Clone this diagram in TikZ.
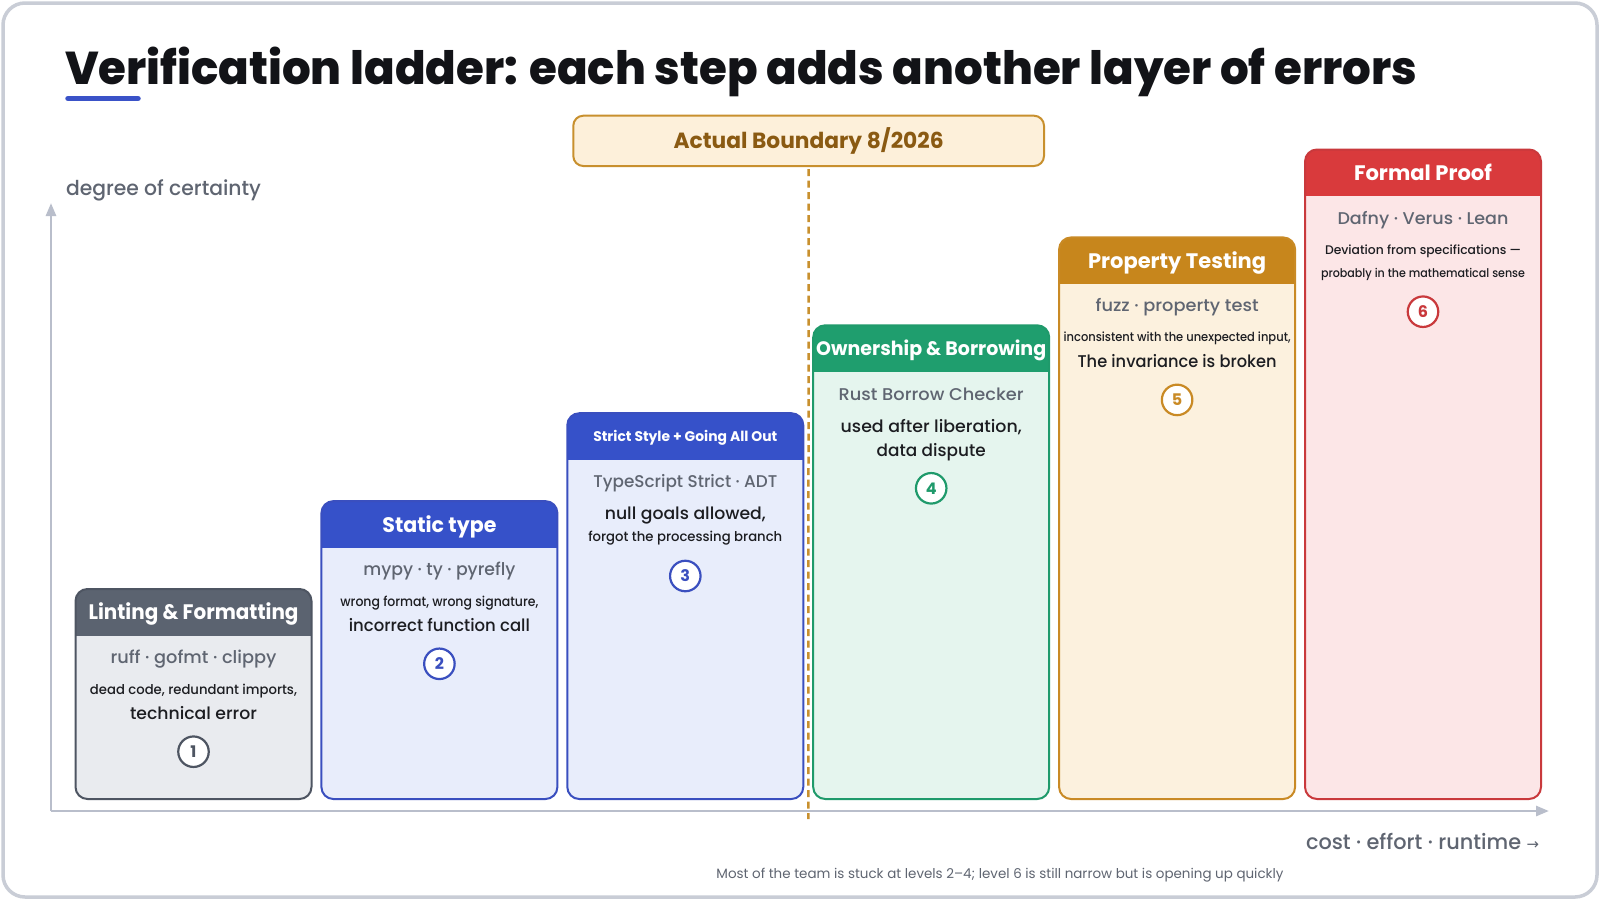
\documentclass[tikz,border=0pt]{standalone}
\usepackage{fontspec}
\usepackage{graphicx}
\usetikzlibrary{arrows.meta}
\setmainfont{Poppins}
\newfontfamily\fxb{Poppins ExtraBold}
\newfontfamily\fsb{Poppins SemiBold}
\newfontfamily\fmd{Poppins Medium}
\newfontfamily\dejavu{DejaVu Sans}
\newcommand\tx[3]{\resizebox{#1pt}{\height}{\fontsize{#2}{#2}\selectfont #3}}
\definecolor{hgray}{HTML}{5B6370}\definecolor{bgray}{HTML}{E9EBEF}\definecolor{kgray}{HTML}{4E5562}
\definecolor{hblue}{HTML}{3651C9}\definecolor{bblue}{HTML}{E8EDFB}\definecolor{kblue}{HTML}{3A4FBF}
\definecolor{hgreen}{HTML}{1F9E6E}\definecolor{bgreen}{HTML}{E5F5EE}\definecolor{kgreen}{HTML}{1F9A6B}
\definecolor{horange}{HTML}{C7861C}\definecolor{borange}{HTML}{FCF1DE}\definecolor{korange}{HTML}{C98A25}
\definecolor{hred}{HTML}{D93A3C}\definecolor{bred}{HTML}{FCE6E7}\definecolor{kred}{HTML}{C9393C}
\definecolor{axisc}{HTML}{B9BECB}\definecolor{framec}{HTML}{C9CDD6}\definecolor{tgray}{HTML}{5F6571}
\definecolor{ink}{HTML}{1C1D21}\definecolor{bfill}{HTML}{FDF0DA}\definecolor{bdraw}{HTML}{C8902E}
\definecolor{btext}{HTML}{8A5A12}\definecolor{ulblue}{HTML}{3A52C8}\definecolor{titlec}{HTML}{121317}
\newcommand\ldbox[5]{%
  \begin{scope}
    \clip[rounded corners=12pt] (#1,#2) rectangle ({#1+236},799);
    \fill[#4] (#1,#2) rectangle ({#1+236},799);
    \fill[#3] (#1,#2) rectangle ({#1+236},{#2+46.5});
  \end{scope}
  \draw[#5, line width=2pt, rounded corners=12pt] (#1,#2) rectangle ({#1+236},799);
}
\tikzset{
  txt/.style={anchor=base, inner sep=0pt, outer sep=0pt},
  hdr/.style={txt, text=white},
  tool/.style={txt, text=tgray},
  desc/.style={txt, text=ink},
  num/.style={circle, draw=#1, text=#1, fill=white, line width=2.2pt, minimum size=30.5pt, inner sep=0pt},
  axisline/.style={axisc, line width=2.7pt, -{Triangle[length=13pt,width=10pt]}},
}
\begin{document}
\begin{tikzpicture}[x=1pt,y=-1pt]
\useasboundingbox (0,0) rectangle (1600,900);
\fill[white] (0,0) rectangle (1600,900);
\draw[framec, line width=3.5pt, rounded corners=22pt] (3,3) rectangle (1597,897);

% title
\node[txt, anchor=base west, text=titlec] (title) at (65,84) {\tx{1352}{46}{\fxb Verification ladder: each step adds another layer of errors}};
\draw[ulblue, line width=5.5pt, line cap=round] (68,98.5) -- (138,98.5);

% axes
\node[txt, anchor=base west, text=tgray] (ylab) at (66,195) {\tx{195}{20.5}{\fmd degree of certainty}};
\coordinate (origin) at (51,811);
\coordinate (ytip) at (51,203);
\coordinate (xtip) at (1549,811);
\draw[axisline] (origin) -- (ytip);
\draw[axisline] (origin) -- (xtip);
\node[txt, anchor=base east, text=tgray] (xlab) at (1539,849) {\tx{233}{21}{\fmd cost · effort · runtime {\dejavu\fontsize{15}{15}\selectfont →}}};
\node[txt, text=tgray] (foot) at (1000,878) {\tx{567}{13.5}{Most of the team is stuck at levels 2–4; level 6 is still narrow but is opening up quickly}};

% boxes
\ldbox{75.5}{589}{hgray}{bgray}{kgray}
\ldbox{321.4}{501.1}{hblue}{bblue}{kblue}
\ldbox{567.3}{413.2}{hblue}{bblue}{kblue}
\ldbox{813.2}{325.3}{hgreen}{bgreen}{kgreen}
\ldbox{1059.1}{237.4}{horange}{borange}{korange}
\ldbox{1305}{149.5}{hred}{bred}{kred}

% boundary
\node[draw=bdraw, fill=bfill, line width=2pt, rounded corners=10pt, minimum width=470.7pt, minimum height=50.3pt, inner sep=0pt] (bnd) at (808.65,140.85) {};
\node[txt, text=btext] (bndlab) at (808.65,148.3) {\tx{270}{22}{\bfseries Actual Boundary 8/2026}};
\coordinate (dashend) at (808.3,819);
\draw[bdraw, line width=2.5pt, dash pattern=on 7pt off 4.5pt, shorten <=2pt] (bnd.south) -- (dashend);

% box 1
\node[hdr] (h1) at (193.5,619.5) {\tx{210}{21}{\bfseries Linting \& Formatting}};
\node[tool] (t1) at (193.5,663) {\tx{166}{17.5}{\fmd ruff · gofmt · clippy}};
\node[desc] (d1a) at (193.5,694) {\tx{207}{13.5}{\fmd dead code, redundant imports,}};
\node[desc] (d1b) at (193.5,719.5) {\tx{127}{17}{\fmd technical error}};
\node[num=kgray] (n1) at (193.5,751.7) {\fontsize{16}{16}\selectfont\bfseries 1};

% box 2
\node[hdr] (h2) at (439.4,532.1) {\tx{114}{21}{\bfseries Static type}};
\node[tool] (t2) at (439.4,575.1) {\tx{152}{17.5}{\fmd mypy · ty · pyrefly}};
\node[desc] (d2a) at (439.4,606.1) {\tx{198}{13.5}{\fmd wrong format, wrong signature,}};
\node[desc] (d2b) at (439.4,631.1) {\tx{181}{17}{\fmd incorrect function call}};
\node[num=kblue] (n2) at (439.4,663.8) {\fontsize{16}{16}\selectfont\bfseries 2};

% box 3
\node[hdr] (h3) at (685.3,441.7) {\tx{184}{14}{\bfseries Strict Style + Going All Out}};
\node[tool] (t3) at (685.3,487.3) {\tx{184}{17}{\fmd TypeScript Strict · ADT}};
\node[desc] (d3a) at (685.3,519.3) {\tx{161}{17}{\fmd null goals allowed,}};
\node[desc] (d3b) at (685.3,541.7) {\tx{194}{13.5}{\fmd forgot the processing branch}};
\node[num=kblue] (n3) at (685.3,576) {\fontsize{16}{16}\selectfont\bfseries 3};

% box 4
\node[hdr] (h4) at (931.2,355) {\tx{230}{19.5}{\bfseries Ownership \& Borrowing}};
\node[tool] (t4) at (931.2,400) {\tx{185}{17}{\fmd Rust Borrow Checker}};
\node[desc] (d4a) at (931.2,432) {\tx{181}{17}{\fmd used after liberation,}};
\node[desc] (d4b) at (931.2,456) {\tx{109}{17}{\fmd data dispute}};
\node[num=kgreen] (n4) at (931.2,488.3) {\fontsize{16}{16}\selectfont\bfseries 4};

% box 5
\node[hdr] (h5) at (1177.1,268.3) {\tx{178}{21}{\bfseries Property Testing}};
\node[tool] (t5) at (1177.1,311.7) {\tx{163}{17}{\fmd fuzz · property test}};
\node[desc] (d5a) at (1177.1,341.7) {\tx{227}{12.5}{\fmd inconsistent with the unexpected input,}};
\node[desc] (d5b) at (1177.1,367.3) {\tx{199}{17}{\fmd The invariance is broken}};
\node[num=korange] (n5) at (1177.1,399.9) {\fontsize{16}{16}\selectfont\bfseries 5};

% box 6
\node[hdr] (h6) at (1423,180) {\tx{138}{21}{\bfseries Formal Proof}};
\node[tool] (t6) at (1423,224) {\tx{171}{17}{\fmd Dafny · Verus · Lean}};
\node[desc] (d6a) at (1423,254) {\tx{196}{12.5}{\fmd Deviation from specifications —}};
\node[desc] (d6b) at (1423,277.3) {\tx{204}{12}{\fmd probably in the mathematical sense}};
\node[num=kred] (n6) at (1423,311.7) {\fontsize{16}{16}\selectfont\bfseries 6};
\end{tikzpicture}
\end{document}
